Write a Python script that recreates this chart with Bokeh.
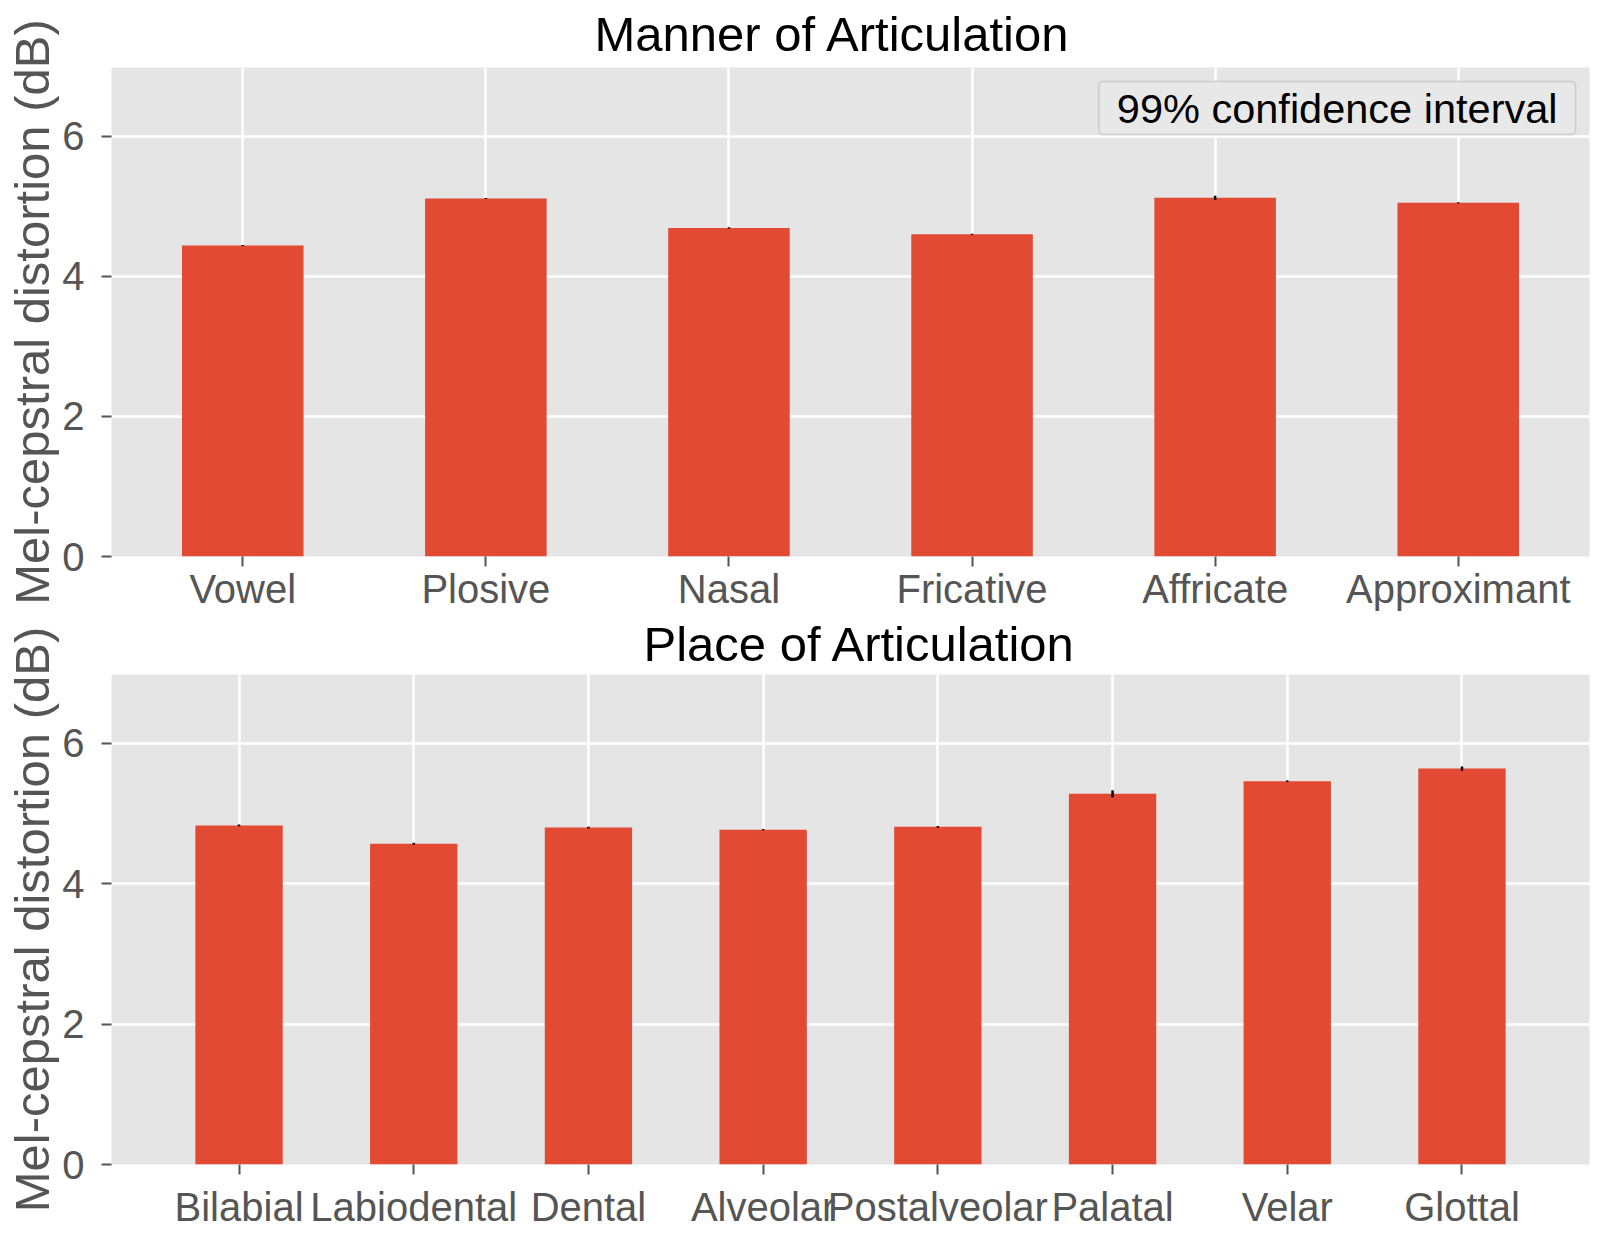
from bokeh.plotting import figure
from bokeh.layouts import column
from bokeh.models import ColumnDataSource, Range1d, FactorRange, Label
from bokeh.embed import file_html
from bokeh.resources import INLINE

# ---- data ----
manner_cats = ["Vowel", "Plosive", "Nasal", "Fricative", "Affricate", "Approximant"]
manner_vals = [4.44, 5.11, 4.69, 4.60, 5.12, 5.05]
manner_err = [0.008, 0.008, 0.008, 0.008, 0.03, 0.008]

place_cats = ["Bilabial", "Labiodental", "Dental", "Alveolar", "Postalveolar",
              "Palatal", "Velar", "Glottal"]
place_vals = [4.83, 4.57, 4.80, 4.77, 4.81, 5.28, 5.46, 5.64]
place_err = [0.012, 0.012, 0.012, 0.008, 0.012, 0.05, 0.012, 0.03]

y_ticks = [0, 2, 4, 6]
y_label = "Mel-cepstral distortion (dB)"
legend_text = "99% confidence interval"
titles = ["Manner of Articulation", "Place of Articulation"]

FONT = "Liberation Sans"
BAR = "#E24A33"
BG = "#E5E5E5"
TXT = "#555555"

FW = 1478


def make_panel(cats, vals, errs, title, title_offset, title_standoff, pad, fh,
               border_top, border_bottom, xlabel_standoff):
    src = ColumnDataSource(dict(
        cat=cats, val=vals,
        lo=[v - e for v, e in zip(vals, errs)],
        hi=[v + e for v, e in zip(vals, errs)],
    ))
    p = figure(
        x_range=FactorRange(factors=cats, range_padding=pad,
                            range_padding_units="absolute"),
        y_range=Range1d(0, 6.98),
        frame_width=FW, frame_height=fh,
        output_backend="svg", toolbar_location=None,
        min_border_left=111, min_border_right=8,
        min_border_top=border_top, min_border_bottom=border_bottom,
    )
    p.background_fill_color = BG
    p.border_fill_color = "white"
    p.outline_line_color = None

    p.vbar(x="cat", top="val", width=0.5, source=src,
           fill_color=BAR, line_color=None)
    p.segment(x0="cat", x1="cat", y0="lo", y1="hi", source=src,
              line_color="black", line_width=2.5)

    # title
    p.title.text = title
    p.title.text_font = FONT
    p.title.text_font_size = "49px"
    p.title.text_font_style = "normal"
    p.title.text_color = "black"
    p.title.align = "left"
    p.title.vertical_align = "top"
    p.title.offset = title_offset
    p.title.standoff = title_standoff

    # grids
    p.xgrid.grid_line_color = "white"
    p.xgrid.grid_line_width = 2.5
    p.ygrid.grid_line_color = "white"
    p.ygrid.grid_line_width = 2.5
    p.ygrid.ticker = y_ticks

    # axes
    for ax in (p.xaxis[0], p.yaxis[0]):
        ax.axis_line_color = None
        ax.major_tick_line_color = TXT
        ax.major_tick_line_width = 2
        ax.major_tick_in = 0
        ax.major_tick_out = 10
        ax.minor_tick_line_color = None
        ax.major_label_text_font = FONT
        ax.major_label_text_font_size = "40px"
        ax.major_label_text_color = TXT

    p.yaxis.ticker = y_ticks
    p.yaxis.major_label_standoff = 17
    p.yaxis.axis_label = y_label
    p.yaxis.axis_label_text_font = FONT
    p.yaxis.axis_label_text_font_size = "49px"
    p.yaxis.axis_label_text_font_style = "normal"
    p.yaxis.axis_label_text_color = TXT
    p.yaxis.axis_label_standoff = 0

    p.xaxis.major_label_standoff = xlabel_standoff
    return p


top = make_panel(manner_cats, manner_vals, manner_err, titles[0], 483, 10,
                 0.04, 489, 67, 56, 0)
bottom = make_panel(place_cats, place_vals, place_err, titles[1], 532, 4,
                    0.23, 490, 61, 70, 10)

leg = Label(
    x=FW - 14, y=489 - 14, x_units="screen", y_units="screen",
    text=legend_text, text_font=FONT, text_font_size="41.5px",
    text_color="black", text_align="right", text_baseline="top",
    background_fill_color="#E8E8E8", background_fill_alpha=1.0,
    border_line_color="#CCCCCC", border_line_width=1.5,
    padding=(18, 3), border_radius=4,
)
top.add_layout(leg)

layout = column(top, bottom)
open("out.html", "w").write(file_html(layout, INLINE))
